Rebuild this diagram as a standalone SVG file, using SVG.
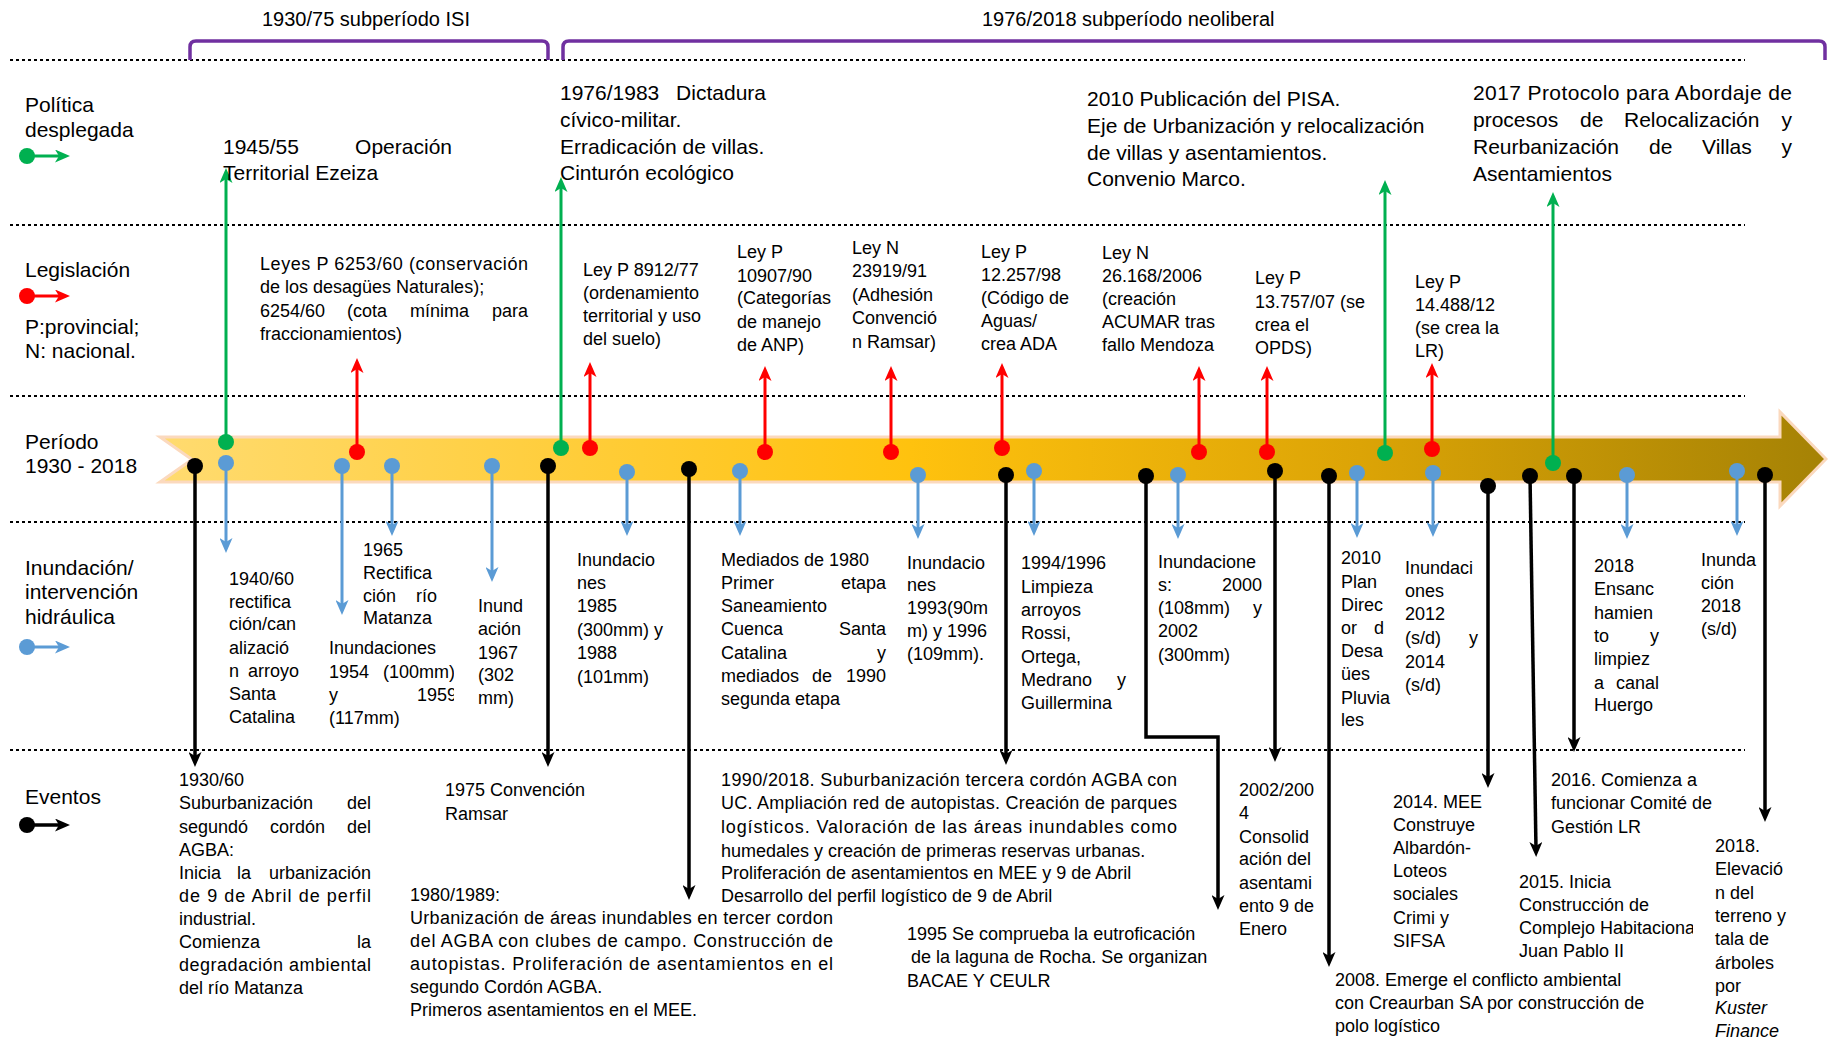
<svg xmlns="http://www.w3.org/2000/svg" width="1828" height="1054" viewBox="0 0 1828 1054">
<defs>
<style>
text{font-family:"Liberation Sans",Arial,sans-serif;font-size:18px;fill:#000}
.lab{font-size:21px}
.pol{font-size:21px}
.hdr{font-size:20px}
.end{text-anchor:end}
.it{font-style:italic}
.dash{stroke:#000;stroke-width:2;stroke-dasharray:3 3;fill:none}
.br{stroke:#7030A0;stroke-width:3.5;fill:none}
.gl{stroke:#00B050;stroke-width:3;fill:none;marker-end:url(#mg)}
.rl{stroke:#FF0000;stroke-width:3;fill:none;marker-end:url(#mr)}
.bl{stroke:#5B9BD5;stroke-width:3;fill:none;marker-end:url(#mb)}
.kl{stroke:#000;stroke-width:3.5;fill:none;marker-end:url(#mk)}
.gc{fill:#00B050}.rc{fill:#FF0000}.bc{fill:#5B9BD5}.kc{fill:#000}
</style>
<marker id="mg" viewBox="0 0 15 13" refX="7" refY="6.5" markerWidth="15" markerHeight="13" markerUnits="userSpaceOnUse" orient="auto"><path d="M0,0 L15,6.5 L0,13 L4,6.5 z" fill="#00B050"/></marker>
<marker id="mr" viewBox="0 0 15 13" refX="7" refY="6.5" markerWidth="15" markerHeight="13" markerUnits="userSpaceOnUse" orient="auto"><path d="M0,0 L15,6.5 L0,13 L4,6.5 z" fill="#FF0000"/></marker>
<marker id="mb" viewBox="0 0 15 13" refX="7" refY="6.5" markerWidth="15" markerHeight="13" markerUnits="userSpaceOnUse" orient="auto"><path d="M0,0 L15,6.5 L0,13 L4,6.5 z" fill="#5B9BD5"/></marker>
<marker id="mk" viewBox="0 0 15 13" refX="7" refY="6.5" markerWidth="15" markerHeight="13" markerUnits="userSpaceOnUse" orient="auto"><path d="M0,0 L15,6.5 L0,13 L4,6.5 z" fill="#000"/></marker>
<linearGradient id="band" x1="160" y1="0" x2="1826" y2="0" gradientUnits="userSpaceOnUse">
<stop offset="0" stop-color="#FFDB70"/>
<stop offset="0.45" stop-color="#FFC20E"/>
<stop offset="0.72" stop-color="#DCA406"/>
<stop offset="1" stop-color="#A58205"/>
</linearGradient>
<clipPath id="cC"><rect x="320" y="630" width="134" height="110"/></clipPath>
<clipPath id="cI"><rect x="1510" y="860" width="183" height="110"/></clipPath>
</defs>

<rect width="1828" height="1054" fill="#fff"/>

<g id="grid">
<line class="dash" x1="10" y1="60" x2="1745" y2="60"/>
<line class="dash" x1="10" y1="225" x2="1745" y2="225"/>
<line class="dash" x1="10" y1="396" x2="1745" y2="396"/>
<line class="dash" x1="10" y1="522" x2="1745" y2="522"/>
<line class="dash" x1="10" y1="750" x2="1745" y2="750"/>
</g>

<g id="brackets">
<path class="br" d="M190,60 L190,47 Q190,41 196,41 L542,41 Q548,41 548,47 L548,60"/>
<path class="br" d="M563,60 L563,47 Q563,41 569,41 L1819,41 Q1825,41 1825,47 L1825,60"/>
</g>
<g id="hdr-isi"><text class="hdr" x="262" y="26">1930/75 subperíodo ISI</text></g>
<g id="hdr-neo"><text class="hdr" x="982" y="26">1976/2018 subperíodo neoliberal</text></g>

<g id="timeline-band">
<polygon points="160,437 1780,437 1780,412 1826,459 1780,506 1780,482 160,482 192,459.5" fill="url(#band)" stroke="#FBD9BE" stroke-width="3" stroke-linejoin="miter"/>
</g>

<g id="row-labels">
<g id="label-politica"><text class="lab" x="25" y="112">Política</text><text class="lab" x="25" y="137">desplegada</text></g>
<g id="label-legislacion"><text class="lab" x="25" y="277">Legislación</text><text class="lab" x="25" y="334">P:provincial;</text><text class="lab" x="25" y="358">N: nacional.</text></g>
<g id="label-periodo"><text class="lab" x="25" y="449">Período</text><text class="lab" x="25" y="473">1930 - 2018</text></g>
<g id="label-inundacion"><text class="lab" x="25" y="575">Inundación/</text><text class="lab" x="25" y="599">intervención</text><text class="lab" x="25" y="624">hidráulica</text></g>
<g id="label-eventos"><text class="lab" x="25" y="804">Eventos</text></g>
</g>

<g id="legend">
<line class="gl" x1="27" y1="156" x2="62" y2="156"/><circle class="gc" cx="27" cy="156" r="8"/>
<line class="rl" x1="27" y1="296" x2="62" y2="296"/><circle class="rc" cx="27" cy="296" r="8"/>
<line class="bl" x1="27" y1="647" x2="62" y2="647"/><circle class="bc" cx="27" cy="647" r="8"/>
<line class="kl" x1="27" y1="825" x2="62" y2="825"/><circle class="kc" cx="27" cy="825" r="8"/>
</g>

<g id="connectors">
<line class="gl" x1="226" y1="442" x2="226" y2="176"/>
<line class="gl" x1="561" y1="448" x2="561" y2="185"/>
<line class="gl" x1="1385" y1="453" x2="1385" y2="188"/>
<line class="gl" x1="1553" y1="463" x2="1553" y2="200"/>
<line class="rl" x1="357" y1="452" x2="357" y2="366"/>
<line class="rl" x1="590" y1="448" x2="590" y2="370"/>
<line class="rl" x1="765" y1="452" x2="765" y2="374"/>
<line class="rl" x1="891" y1="452" x2="891" y2="374"/>
<line class="rl" x1="1002" y1="448" x2="1002" y2="371"/>
<line class="rl" x1="1199" y1="452" x2="1199" y2="374"/>
<line class="rl" x1="1267" y1="452" x2="1267" y2="374"/>
<line class="rl" x1="1432" y1="449" x2="1432" y2="371"/>
<line class="bl" x1="226" y1="463" x2="226" y2="545"/>
<line class="bl" x1="342" y1="466" x2="342" y2="607"/>
<line class="bl" x1="392" y1="466" x2="392" y2="528"/>
<line class="bl" x1="492" y1="466" x2="492" y2="574"/>
<line class="bl" x1="627" y1="472" x2="627" y2="528"/>
<line class="bl" x1="740" y1="471" x2="740" y2="528"/>
<line class="bl" x1="918" y1="475" x2="918" y2="531"/>
<line class="bl" x1="1034" y1="471" x2="1034" y2="528"/>
<line class="bl" x1="1178" y1="475" x2="1178" y2="531"/>
<line class="bl" x1="1357" y1="473" x2="1357" y2="530"/>
<line class="bl" x1="1433" y1="473" x2="1433" y2="529"/>
<line class="bl" x1="1627" y1="475" x2="1627" y2="531"/>
<line class="bl" x1="1737" y1="471" x2="1737" y2="528"/>
<line class="kl" x1="195" y1="466" x2="195" y2="759"/>
<line class="kl" x1="548" y1="466" x2="548" y2="759"/>
<line class="kl" x1="689" y1="469" x2="689" y2="892"/>
<line class="kl" x1="1006" y1="475" x2="1006" y2="757"/>
<path class="kl" d="M1146,476 L1146,737 L1218,737 L1218,902"/>
<line class="kl" x1="1275" y1="471" x2="1275" y2="754"/>
<line class="kl" x1="1329" y1="476" x2="1329" y2="959"/>
<line class="kl" x1="1488" y1="486" x2="1488" y2="780"/>
<line class="kl" x1="1530" y1="476" x2="1536" y2="849"/>
<line class="kl" x1="1574" y1="476" x2="1574" y2="744"/>
<line class="kl" x1="1765" y1="475" x2="1765" y2="814"/>
<circle class="gc" cx="226" cy="442" r="8"/>
<circle class="gc" cx="561" cy="448" r="8"/>
<circle class="gc" cx="1385" cy="453" r="8"/>
<circle class="gc" cx="1553" cy="463" r="8"/>
<circle class="rc" cx="357" cy="452" r="8"/>
<circle class="rc" cx="590" cy="448" r="8"/>
<circle class="rc" cx="765" cy="452" r="8"/>
<circle class="rc" cx="891" cy="452" r="8"/>
<circle class="rc" cx="1002" cy="448" r="8"/>
<circle class="rc" cx="1199" cy="452" r="8"/>
<circle class="rc" cx="1267" cy="452" r="8"/>
<circle class="rc" cx="1432" cy="449" r="8"/>
<circle class="bc" cx="226" cy="463" r="8"/>
<circle class="bc" cx="342" cy="466" r="8"/>
<circle class="bc" cx="392" cy="466" r="8"/>
<circle class="bc" cx="492" cy="466" r="8"/>
<circle class="bc" cx="627" cy="472" r="8"/>
<circle class="bc" cx="740" cy="471" r="8"/>
<circle class="bc" cx="918" cy="475" r="8"/>
<circle class="bc" cx="1034" cy="471" r="8"/>
<circle class="bc" cx="1178" cy="475" r="8"/>
<circle class="bc" cx="1357" cy="473" r="8"/>
<circle class="bc" cx="1433" cy="473" r="8"/>
<circle class="bc" cx="1627" cy="475" r="8"/>
<circle class="bc" cx="1737" cy="471" r="8"/>
<circle class="kc" cx="195" cy="466" r="8"/>
<circle class="kc" cx="548" cy="466" r="8"/>
<circle class="kc" cx="689" cy="469" r="8"/>
<circle class="kc" cx="1006" cy="475" r="8"/>
<circle class="kc" cx="1146" cy="476" r="8"/>
<circle class="kc" cx="1275" cy="471" r="8"/>
<circle class="kc" cx="1329" cy="476" r="8"/>
<circle class="kc" cx="1488" cy="486" r="8"/>
<circle class="kc" cx="1530" cy="476" r="8"/>
<circle class="kc" cx="1574" cy="476" r="8"/>
<circle class="kc" cx="1765" cy="475" r="8"/>
</g>

<g id="pol-1945">
<text class="pol" x="223" y="154">1945/55</text><text class="pol end" x="452" y="154">Operación</text>
<text class="pol" x="223" y="180">Territorial Ezeiza</text>
</g>
<g id="pol-1976">
<text class="pol" x="560" y="100">1976/1983</text><text class="pol end" x="766" y="100">Dictadura</text>
<text class="pol" x="560" y="127">cívico-militar.</text>
<text class="pol" x="560" y="154">Erradicación de villas.</text>
<text class="pol" x="560" y="180">Cinturón ecológico</text>
</g>
<g id="pol-2010">
<text class="pol" x="1087" y="106">2010 Publicación del PISA.</text>
<text class="pol" x="1087" y="133">Eje de Urbanización y relocalización</text>
<text class="pol" x="1087" y="160">de villas y asentamientos.</text>
<text class="pol" x="1087" y="186">Convenio Marco.</text>
</g>
<g id="pol-2017">
<text class="pol" x="1473" y="100" textLength="319">2017 Protocolo para Abordaje de</text>
<text class="pol" x="1473" y="127">procesos</text><text class="pol" x="1580" y="127">de</text><text class="pol" x="1624" y="127">Relocalización</text><text class="pol end" x="1792" y="127">y</text>
<text class="pol" x="1473" y="154">Reurbanización</text><text class="pol" x="1649" y="154">de</text><text class="pol" x="1702" y="154">Villas</text><text class="pol end" x="1792" y="154">y</text>
<text class="pol" x="1473" y="181">Asentamientos</text>
</g>

<g id="ley-6253">
<text x="260" y="270" textLength="268">Leyes P 6253/60 (conservación</text>
<text x="260" y="293">de los desagües Naturales);</text>
<text x="260" y="317">6254/60</text><text x="347" y="317">(cota</text><text x="410" y="317">mínima</text><text class="end" x="528" y="317">para</text>
<text x="260" y="340">fraccionamientos)</text>
</g>
<g id="ley-8912">
<text x="583" y="276">Ley P 8912/77</text>
<text x="583" y="299">(ordenamiento</text>
<text x="583" y="322">territorial y uso</text>
<text x="583" y="345">del suelo)</text>
</g>
<g id="ley-10907">
<text x="737" y="258">Ley P</text>
<text x="737" y="282">10907/90</text>
<text x="737" y="304">(Categorías</text>
<text x="737" y="328">de manejo</text>
<text x="737" y="351">de ANP)</text>
</g>
<g id="ley-23919">
<text x="852" y="254">Ley N</text>
<text x="852" y="277">23919/91</text>
<text x="852" y="301">(Adhesión</text>
<text x="852" y="324">Convenció</text>
<text x="852" y="348">n Ramsar)</text>
</g>
<g id="ley-12257">
<text x="981" y="258">Ley P</text>
<text x="981" y="281">12.257/98</text>
<text x="981" y="304">(Código de</text>
<text x="981" y="327">Aguas/</text>
<text x="981" y="350">crea ADA</text>
</g>
<g id="ley-26168">
<text x="1102" y="259">Ley N</text>
<text x="1102" y="282">26.168/2006</text>
<text x="1102" y="305">(creación</text>
<text x="1102" y="328">ACUMAR tras</text>
<text x="1102" y="351">fallo Mendoza</text>
</g>
<g id="ley-13757">
<text x="1255" y="284">Ley P</text>
<text x="1255" y="308">13.757/07 (se</text>
<text x="1255" y="331">crea el</text>
<text x="1255" y="354">OPDS)</text>
</g>
<g id="ley-14488">
<text x="1415" y="288">Ley P</text>
<text x="1415" y="311">14.488/12</text>
<text x="1415" y="334">(se crea la</text>
<text x="1415" y="357">LR)</text>
</g>

<g id="inu-1940">
<text x="229" y="585">1940/60</text>
<text x="229" y="608">rectifica</text>
<text x="229" y="630">ción/can</text>
<text x="229" y="654">alizació</text>
<text x="229" y="677">n</text><text class="end" x="299" y="677">arroyo</text>
<text x="229" y="700">Santa</text>
<text x="229" y="723">Catalina</text>
</g>
<g id="inu-1965">
<text x="363" y="556">1965</text>
<text x="363" y="579">Rectifica</text>
<text x="363" y="602">ción</text><text class="end" x="437" y="602">río</text>
<text x="363" y="624">Matanza</text>
</g>
<g id="inu-1954" clip-path="url(#cC)">
<text x="329" y="654">Inundaciones</text>
<text x="329" y="678">1954</text><text x="383" y="678">(100mm)</text>
<text x="329" y="701">y</text><text x="417" y="701">1959</text>
<text x="329" y="724">(117mm)</text>
</g>
<g id="inu-1967">
<text x="478" y="612">Inund</text>
<text x="478" y="635">ación</text>
<text x="478" y="659">1967</text>
<text x="478" y="681">(302</text>
<text x="478" y="704">mm)</text>
</g>
<g id="inu-1985">
<text x="577" y="566">Inundacio</text>
<text x="577" y="589">nes</text>
<text x="577" y="612">1985</text>
<text x="577" y="636">(300mm) y</text>
<text x="577" y="659">1988</text>
<text x="577" y="683">(101mm)</text>
</g>
<g id="inu-saneamiento">
<text x="721" y="566">Mediados de 1980</text>
<text x="721" y="589">Primer</text><text class="end" x="886" y="589">etapa</text>
<text x="721" y="612">Saneamiento</text>
<text x="721" y="635">Cuenca</text><text class="end" x="886" y="635">Santa</text>
<text x="721" y="659">Catalina</text><text class="end" x="886" y="659">y</text>
<text x="721" y="682">mediados</text><text x="812" y="682">de</text><text class="end" x="886" y="682">1990</text>
<text x="721" y="705">segunda etapa</text>
</g>
<g id="inu-1993">
<text x="907" y="569">Inundacio</text>
<text x="907" y="591">nes</text>
<text x="907" y="614">1993(90m</text>
<text x="907" y="637">m) y 1996</text>
<text x="907" y="660">(109mm).</text>
</g>
<g id="inu-limpieza">
<text x="1021" y="569">1994/1996</text>
<text x="1021" y="593">Limpieza</text>
<text x="1021" y="616">arroyos</text>
<text x="1021" y="639">Rossi,</text>
<text x="1021" y="663">Ortega,</text>
<text x="1021" y="686">Medrano</text><text class="end" x="1126" y="686">y</text>
<text x="1021" y="709">Guillermina</text>
</g>
<g id="inu-2000">
<text x="1158" y="568">Inundacione</text>
<text x="1158" y="591">s:</text><text class="end" x="1262" y="591">2000</text>
<text x="1158" y="614">(108mm)</text><text class="end" x="1262" y="614">y</text>
<text x="1158" y="637">2002</text>
<text x="1158" y="661">(300mm)</text>
</g>
<g id="inu-plan2010">
<text x="1341" y="564">2010</text>
<text x="1341" y="588">Plan</text>
<text x="1341" y="611">Direc</text>
<text x="1341" y="634">or</text><text x="1374" y="634">d</text>
<text x="1341" y="657">Desa</text>
<text x="1341" y="680">ües</text>
<text x="1341" y="704">Pluvia</text>
<text x="1341" y="726">les</text>
</g>
<g id="inu-2012">
<text x="1405" y="574">Inundaci</text>
<text x="1405" y="597">ones</text>
<text x="1405" y="620">2012</text>
<text x="1405" y="644">(s/d)</text><text class="end" x="1478" y="644">y</text>
<text x="1405" y="668">2014</text>
<text x="1405" y="691">(s/d)</text>
</g>
<g id="inu-huergo">
<text x="1594" y="572">2018</text>
<text x="1594" y="595">Ensanc</text>
<text x="1594" y="619">hamien</text>
<text x="1594" y="642">to</text><text class="end" x="1659" y="642">y</text>
<text x="1594" y="665">limpiez</text>
<text x="1594" y="689">a</text><text class="end" x="1659" y="689">canal</text>
<text x="1594" y="711">Huergo</text>
</g>
<g id="inu-2018">
<text x="1701" y="566">Inunda</text>
<text x="1701" y="589">ción</text>
<text x="1701" y="612">2018</text>
<text x="1701" y="635">(s/d)</text>
</g>

<g id="ev-1930">
<text x="179" y="786">1930/60</text>
<text x="179" y="809">Suburbanización</text><text class="end" x="371" y="809">del</text>
<text x="179" y="833">segundó</text><text x="270" y="833">cordón</text><text class="end" x="371" y="833">del</text>
<text x="179" y="856">AGBA:</text>
<text x="179" y="879">Inicia</text><text x="237" y="879">la</text><text class="end" x="371" y="879">urbanización</text>
<text x="179" y="902" textLength="192">de 9 de Abril de perfil</text>
<text x="179" y="925">industrial.</text>
<text x="179" y="948">Comienza</text><text class="end" x="371" y="948">la</text>
<text x="179" y="971" textLength="192">degradación ambiental</text>
<text x="179" y="994">del río Matanza</text>
</g>
<g id="ev-1975">
<text x="445" y="796">1975 Convención</text>
<text x="445" y="820">Ramsar</text>
</g>
<g id="ev-1980">
<text x="410" y="901">1980/1989:</text>
<text x="410" y="924" textLength="423">Urbanización de áreas inundables en tercer cordon</text>
<text x="410" y="947" textLength="423">del AGBA con clubes de campo. Construcción de</text>
<text x="410" y="970" textLength="423">autopistas. Proliferación de asentamientos en el</text>
<text x="410" y="993">segundo Cordón AGBA.</text>
<text x="410" y="1016">Primeros asentamientos en el MEE.</text>
</g>
<g id="ev-1990">
<text x="721" y="786" textLength="456">1990/2018. Suburbanización tercera cordón AGBA con</text>
<text x="721" y="809" textLength="456">UC. Ampliación red de autopistas. Creación de parques</text>
<text x="721" y="833" textLength="456">logísticos. Valoración de las áreas inundables como</text>
<text x="721" y="857">humedales y creación de primeras reservas urbanas.</text>
<text x="721" y="879">Proliferación de asentamientos en MEE y 9 de Abril</text>
<text x="721" y="902">Desarrollo del perfil logístico de 9 de Abril</text>
</g>
<g id="ev-1995">
<text x="907" y="940">1995 Se comprueba la eutroficación</text>
<text x="911" y="963">de la laguna de Rocha. Se organizan</text>
<text x="907" y="987">BACAE Y CEULR</text>
</g>
<g id="ev-2002">
<text x="1239" y="796">2002/200</text>
<text x="1239" y="819">4</text>
<text x="1239" y="843">Consolid</text>
<text x="1239" y="865">ación del</text>
<text x="1239" y="889">asentami</text>
<text x="1239" y="912">ento 9 de</text>
<text x="1239" y="935">Enero</text>
</g>
<g id="ev-2008">
<text x="1335" y="986">2008. Emerge el conflicto ambiental</text>
<text x="1335" y="1009">con Creaurban SA por construcción de</text>
<text x="1335" y="1032">polo logístico</text>
</g>
<g id="ev-2014">
<text x="1393" y="808">2014. MEE</text>
<text x="1393" y="831">Construye</text>
<text x="1393" y="854">Albardón-</text>
<text x="1393" y="877">Loteos</text>
<text x="1393" y="900">sociales</text>
<text x="1393" y="924">Crimi y</text>
<text x="1393" y="947">SIFSA</text>
</g>
<g id="ev-2015" clip-path="url(#cI)">
<text x="1519" y="888">2015. Inicia</text>
<text x="1519" y="911">Construcción de</text>
<text x="1519" y="934">Complejo Habitacional</text>
<text x="1519" y="957">Juan Pablo II</text>
</g>
<g id="ev-2016">
<text x="1551" y="786">2016. Comienza a</text>
<text x="1551" y="809">funcionar Comité de</text>
<text x="1551" y="833">Gestión LR</text>
</g>
<g id="ev-2018">
<text x="1715" y="852">2018.</text>
<text x="1715" y="875">Elevació</text>
<text x="1715" y="899">n del</text>
<text x="1715" y="922">terreno y</text>
<text x="1715" y="945">tala de</text>
<text x="1715" y="969">árboles</text>
<text x="1715" y="992">por</text>
<text class="it" x="1715" y="1014">Kuster</text>
<text class="it" x="1715" y="1037">Finance</text>
</g>
</svg>
